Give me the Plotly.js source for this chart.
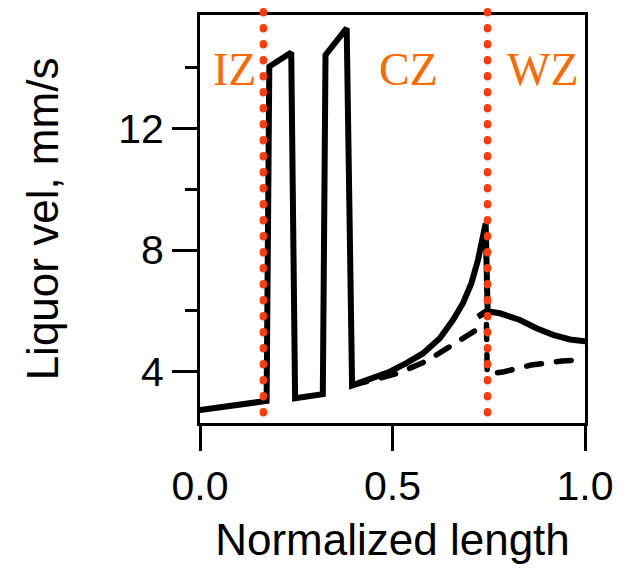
<!DOCTYPE html>
<html>
<head>
<meta charset="utf-8">
<script src="https://cdn.plot.ly/plotly-3.0.1.min.js"></script>
<style>html,body{margin:0;padding:0;background:#fff;}#chart{width:628px;height:569px;}</style>
</head>
<body>
<div id="chart"></div>
<script>
// Solid curve (liquor velocity)
const solidX = [0.0, 0.173, 0.180, 0.237, 0.247, 0.319, 0.326, 0.381, 0.395, 0.449, 0.493, 0.536, 0.579, 0.623, 0.657, 0.683, 0.705, 0.722, 0.735, 0.742, 0.747, 0.722, 0.748, 0.779, 0.831, 0.874, 0.917, 0.961, 1.0];
const solidY = [2.74, 3.04, 14.03, 14.49, 3.13, 3.26, 14.41, 15.29, 3.55, 3.78, 4.00, 4.28, 4.60, 5.10, 5.70, 6.25, 6.91, 7.67, 8.55, 8.88, 6.02, 5.81, 5.98, 5.92, 5.70, 5.43, 5.21, 5.06, 5.00];
// Dashed curve
const dashX = [0.395, 0.450, 0.515, 0.590, 0.664, 0.700, 0.744, 0.746, 0.790, 0.860, 0.940, 1.0];
const dashY = [3.55, 3.72, 3.95, 4.36, 4.96, 5.25, 5.58, 3.92, 4.00, 4.22, 4.35, 4.40];
// Zone boundaries and labels
const zoneBounds = [0.1647, 0.7468];
const zoneLabels = ["IZ", "CZ", "WZ"];
const zoneLabelX = [0.0885, 0.542, 0.892];
const zoneLabelY = 13.95;
const xTicks = [0, 0.5, 1.0];

const traces = [
  {x: solidX, y: solidY, mode: 'lines', line: {color: '#000', width: 6}, showlegend: false, hoverinfo: 'skip'},
  {x: dashX, y: dashY, mode: 'lines', line: {color: '#000', width: 5.5, dash: '15px,15px'}, showlegend: false, hoverinfo: 'skip'}
];

const shapes = zoneBounds.map(b => ({
  type: 'line', xref: 'x', yref: 'paper', x0: b, x1: b, y0: 0.025, y1: 1.01,
  line: {color: '#ff3d00', width: 7.5, dash: '1px,15px'}, layer: 'above'
}));

const annotations = zoneLabels.map((t, i) => ({
  text: t, x: zoneLabelX[i], y: zoneLabelY, xref: 'x', yref: 'y',
  showarrow: false, xanchor: 'center', yanchor: 'middle',
  font: {family: 'Liberation Serif, Times New Roman, serif', size: 46, color: '#ff6a00'}
}));

const layout = {
  width: 628, height: 569,
  margin: {l: 200, r: 43, t: 15, b: 146},
  paper_bgcolor: '#fff', plot_bgcolor: '#fff',
  font: {family: 'Liberation Sans, Arial, sans-serif', color: '#000'},
  xaxis: {
    range: [0, 1], tickvals: xTicks, tickformat: '.1f',
    showgrid: false, zeroline: false,
    showline: true, mirror: true, linecolor: '#000', linewidth: 3,
    ticks: 'outside', ticklen: 25, tickwidth: 3, tickcolor: '#000',
    tickfont: {size: 41},
    title: {text: 'Normalized length', font: {size: 44}, standoff: 16}
  },
  yaxis: {
    range: [2.314, 15.725], tick0: 0, dtick: 4,
    showgrid: false, zeroline: false,
    showline: true, mirror: true, linecolor: '#000', linewidth: 3,
    ticks: 'outside', ticklen: 25, tickwidth: 3, tickcolor: '#000',
    tickfont: {size: 41},
    minor: {dtick: 2, ticks: 'outside', ticklen: 12, tickwidth: 3, tickcolor: '#000', showgrid: false},
    title: {text: 'Liquor vel, mm/s', font: {size: 44}, standoff: 46}
  },
  shapes: shapes,
  annotations: annotations
};

Plotly.newPlot('chart', traces, layout, {staticPlot: true, displayModeBar: false}).then(() => {
  document.querySelectorAll('.shapelayer path').forEach(p => { p.style.strokeLinecap = 'round'; });
  document.querySelectorAll('.scatterlayer .js-line').forEach(p => { p.style.strokeLinecap = 'round'; });
});
</script>
</body>
</html>
